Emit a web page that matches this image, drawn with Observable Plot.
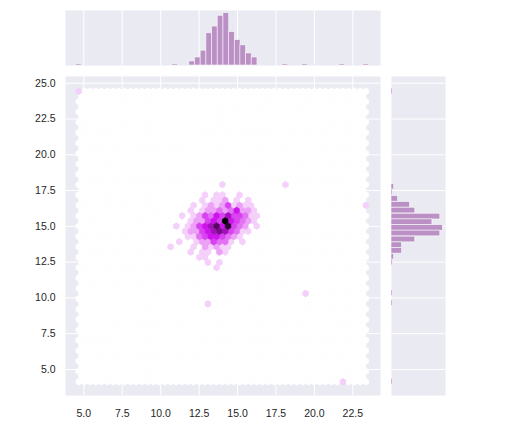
<!DOCTYPE html>
<html><head><meta charset="utf-8">
<script src="https://cdn.jsdelivr.net/npm/d3@7"></script>
<script src="https://cdn.jsdelivr.net/npm/@observablehq/plot@0.6"></script>
<style>
body{margin:0;background:#fff;}
#chart{position:relative;width:525px;height:429px;font-family:"Liberation Sans",Arial,sans-serif;}
#chart svg{position:absolute;}
</style></head><body><div id="chart"></div>
<script>
// Hexbin cells of the central cluster: [x, y, count]
const cells = [
  [14.01,17.92,1],
  [12.89,17.19,1],[13.64,17.19,1],[14.01,17.19,1],[15.13,17.19,1],
  [12.70,16.83,1],[13.45,16.83,1],[13.82,16.83,1],[14.20,16.83,2],[14.94,16.83,1],[15.69,16.83,1],
  [12.14,16.47,1],[12.89,16.47,1],[13.26,16.47,2],[13.64,16.47,1],[14.01,16.47,2],[14.38,16.47,4],[14.76,16.47,1],[15.13,16.47,2],[15.50,16.47,1],[15.88,16.47,1],
  [11.95,16.10,1],[12.70,16.10,1],[13.08,16.10,2],[13.45,16.10,2],[13.82,16.10,3],[14.20,16.10,2],[14.57,16.10,3],[14.94,16.10,5],[15.32,16.10,2],[15.69,16.10,2],[16.06,16.10,1],
  [11.39,15.74,1],[12.14,15.74,1],[12.52,15.74,2],[12.89,15.74,4],[13.26,15.74,3],[13.64,15.74,5],[14.01,15.74,4],[14.38,15.74,6],[14.76,15.74,4],[15.13,15.74,4],[15.50,15.74,3],[15.88,15.74,1],[16.25,15.74,1],
  [11.95,15.38,1],[12.33,15.38,2],[12.70,15.38,2],[13.08,15.38,4],[13.45,15.38,5],[13.82,15.38,4],[14.20,15.38,10],[14.57,15.38,5],[14.94,15.38,4],[15.32,15.38,3],[15.69,15.38,2],[16.06,15.38,1],
  [11.02,15.02,1],[11.77,15.02,1],[12.14,15.02,2],[12.52,15.02,4],[12.89,15.02,5],[13.26,15.02,6],[13.64,15.02,8],[14.01,15.02,5],[14.38,15.02,9],[14.76,15.02,4],[15.13,15.02,3],[15.50,15.02,2],[16.25,15.02,1],
  [11.58,14.65,1],[11.95,14.65,2],[12.33,14.65,2],[12.70,14.65,4],[13.08,14.65,5],[13.45,14.65,6],[13.82,14.65,7],[14.20,14.65,6],[14.57,14.65,4],[14.94,14.65,3],[15.32,14.65,1],[15.69,14.65,1],
  [11.77,14.29,1],[12.14,14.29,1],[12.52,14.29,3],[12.89,14.29,4],[13.26,14.29,5],[13.64,14.29,5],[14.01,14.29,4],[14.38,14.29,3],[14.76,14.29,2],[15.13,14.29,1],
  [11.21,13.93,1],[12.33,13.93,1],[12.70,13.93,2],[13.08,13.93,2],[13.45,13.93,4],[13.82,13.93,3],[14.20,13.93,3],[14.57,13.93,1],[15.32,13.93,1],
  [10.65,13.57,1],[12.14,13.57,1],[12.89,13.57,2],[13.26,13.57,1],[13.64,13.57,2],[14.01,13.57,1],[14.38,13.57,1],
  [11.95,13.20,1],[12.70,13.20,1],[13.08,13.20,1],[13.82,13.20,2],[14.20,13.20,1],
  [12.52,12.84,1],[12.89,12.84,1],
  [13.08,12.48,1],[13.82,12.48,1],
  [13.64,12.12,1]
];
// isolated points
const outlierX = [4.67, 21.81, 23.35, 18.10, 19.38, 13.09];
const outlierY = [24.44, 4.14, 16.47, 17.92, 10.33, 9.63];

// marginal histograms (bin centre, count)
const histXCenter = [4.67, 10.93, 12.05, 12.42, 12.79, 13.16, 13.53, 13.90, 14.27, 14.64, 15.01, 15.37, 15.74, 16.11, 18.10, 19.38, 21.81, 23.35];
const histXCount  = [1, 1, 3, 6, 11, 24, 29, 37, 39, 25, 19, 15, 9, 6, 1, 1, 1, 1];
const histYCenter = [24.44, 17.76, 17.36, 16.92, 16.50, 16.10, 15.68, 15.29, 14.89, 14.50, 14.08, 13.68, 13.29, 12.87, 12.47, 10.33, 9.63, 4.14];
const histYCount  = [1, 2, 1, 5, 14, 18, 37, 31, 39, 37, 18, 8, 8, 2, 1, 1, 1, 1];

const xTicks = [5, 7.5, 10, 12.5, 15, 17.5, 20, 22.5];
const yTicks = [5, 7.5, 10, 12.5, 15, 17.5, 20, 22.5, 25];
const xDomain = [3.81, 24.30];
const yDomain = [3.18, 25.47];

const bg = "#eaeaf2";
const barColor = "#a971b6";
const fmt = d3.format(".1f");

// ---- hexbin lattice (matplotlib style, gridsize 50) ----
const pts = cells.map(([x, y, n]) => ({x, y, n}))
  .concat(outlierX.map((x, i) => ({x, y: outlierY[i], n: 1})));
const xmin = d3.min(pts, d => d.x), xmax = d3.max(pts, d => d.x);
const ymin = d3.min(pts, d => d.y), ymax = d3.max(pts, d => d.y);
const nx = 50, ny = Math.floor(nx / Math.sqrt(3));
const sx = (xmax - xmin) / nx, sy = (ymax - ymin) / ny;
const L1 = new Map(), L2 = new Map();
for (const p of pts) {
  const ix = (p.x - xmin) / sx, iy = (p.y - ymin) / sy;
  const ix1 = Math.round(ix), iy1 = Math.round(iy);
  const ix2 = Math.floor(ix), iy2 = Math.floor(iy);
  const d1 = (ix - ix1) ** 2 + 3 * (iy - iy1) ** 2;
  const d2 = (ix - ix2 - 0.5) ** 2 + 3 * (iy - iy2 - 0.5) ** 2;
  if (d1 < d2) { const k = ix1 + "," + iy1; L1.set(k, (L1.get(k) || 0) + p.n); }
  else { const k = ix2 + "," + iy2; L2.set(k, (L2.get(k) || 0) + p.n); }
}
const lattice = [];
for (let i = 0; i <= nx; i++) for (let j = 0; j <= ny; j++)
  lattice.push({x: xmin + i * sx, y: ymin + j * sy, n: L1.get(i + "," + j) || 0});
for (let i = 0; i < nx; i++) for (let j = 0; j < ny; j++)
  lattice.push({x: xmin + (i + 0.5) * sx, y: ymin + (j + 0.5) * sy, n: L2.get(i + "," + j) || 0});
lattice.sort((a, b) => a.n - b.n);
const maxN = d3.max(lattice, d => d.n);
const hexColor = n => d3.hsl(292, 0.85, 1 - n / maxN).formatHex();

// geometry of the main frame
const W = 385, H = 359, mL = 65, mR = 5, mT = 6, mB = 34;
const pxX = (W - mL - mR) / (xDomain[1] - xDomain[0]);
const pxY = (H - mT - mB) / (yDomain[1] - yDomain[0]);
const hw = sx * pxX, hh = sy * pxY;
const hexSymbol = {
  draw(ctx) {
    const a = hw / 2, b = hh / 6, c = hh / 3;
    ctx.moveTo(a, -b); ctx.lineTo(a, b); ctx.lineTo(0, c);
    ctx.lineTo(-a, b); ctx.lineTo(-a, -b); ctx.lineTo(0, -c); ctx.closePath();
  }
};

const font = {fontSize: "10.5px", fontFamily: "'Liberation Sans', Arial, sans-serif", color: "#262626", background: "transparent", overflow: "visible"};

const mainPlot = Plot.plot({
  width: W, height: H, marginLeft: mL, marginRight: mR, marginTop: mT, marginBottom: mB,
  x: {domain: xDomain, ticks: xTicks, tickFormat: fmt, tickSize: 0, tickPadding: 14, label: null},
  y: {domain: yDomain, ticks: yTicks, tickFormat: fmt, tickSize: 0, tickPadding: 10, label: null},
  color: {type: "identity"},
  style: font,
  marks: [
    Plot.frame({fill: bg, stroke: "none"}),
    Plot.ruleX(xTicks, {stroke: "white", strokeWidth: 1}),
    Plot.ruleY(yTicks, {stroke: "white", strokeWidth: 1}),
    Plot.dot(lattice, {x: "x", y: "y", r: 3, symbol: hexSymbol,
      fill: d => hexColor(d.n), stroke: d => hexColor(d.n), strokeWidth: 0.5})
  ]
});
mainPlot.style.left = "0px"; mainPlot.style.top = "70px";

const histX = histXCenter.map((c, i) => ({c, n: histXCount[i]}));
const histY = histYCenter.map((c, i) => ({c, n: histYCount[i]}));
const bwX = sx, bwY = (ymax - ymin) / 51;

const topPlot = Plot.plot({
  width: W, height: 70, marginLeft: mL, marginRight: mR, marginTop: 10, marginBottom: 5,
  x: {domain: xDomain, axis: null},
  y: {domain: [0, d3.max(histXCount) * 1.05], axis: null},
  style: font,
  marks: [
    Plot.frame({fill: bg, stroke: "none"}),
    Plot.ruleX(xTicks, {stroke: "white", strokeWidth: 1}),
    Plot.rectY(histX, {x1: d => d.c - bwX / 2, x2: d => d.c + bwX / 2, y1: 0, y2: "n",
      fill: barColor, fillOpacity: 0.75, stroke: "white", strokeOpacity: 0.7, strokeWidth: 0.8})
  ]
});
topPlot.style.left = "0px"; topPlot.style.top = "0px";

const rightPlot = Plot.plot({
  width: 65, height: H, marginLeft: 6, marginRight: 5, marginTop: mT, marginBottom: mB,
  y: {domain: yDomain, axis: null},
  x: {domain: [0, d3.max(histYCount) * 1.05], axis: null},
  style: font,
  marks: [
    Plot.frame({fill: bg, stroke: "none"}),
    Plot.ruleY(yTicks, {stroke: "white", strokeWidth: 1}),
    Plot.rectX(histY, {y1: d => d.c - bwY / 2, y2: d => d.c + bwY / 2, x1: 0, x2: "n",
      fill: barColor, fillOpacity: 0.75, stroke: "white", strokeOpacity: 0.7, strokeWidth: 0.8})
  ]
});
rightPlot.style.left = "385px"; rightPlot.style.top = "70px";

document.getElementById("chart").append(topPlot, mainPlot, rightPlot);
</script>
</body></html>
